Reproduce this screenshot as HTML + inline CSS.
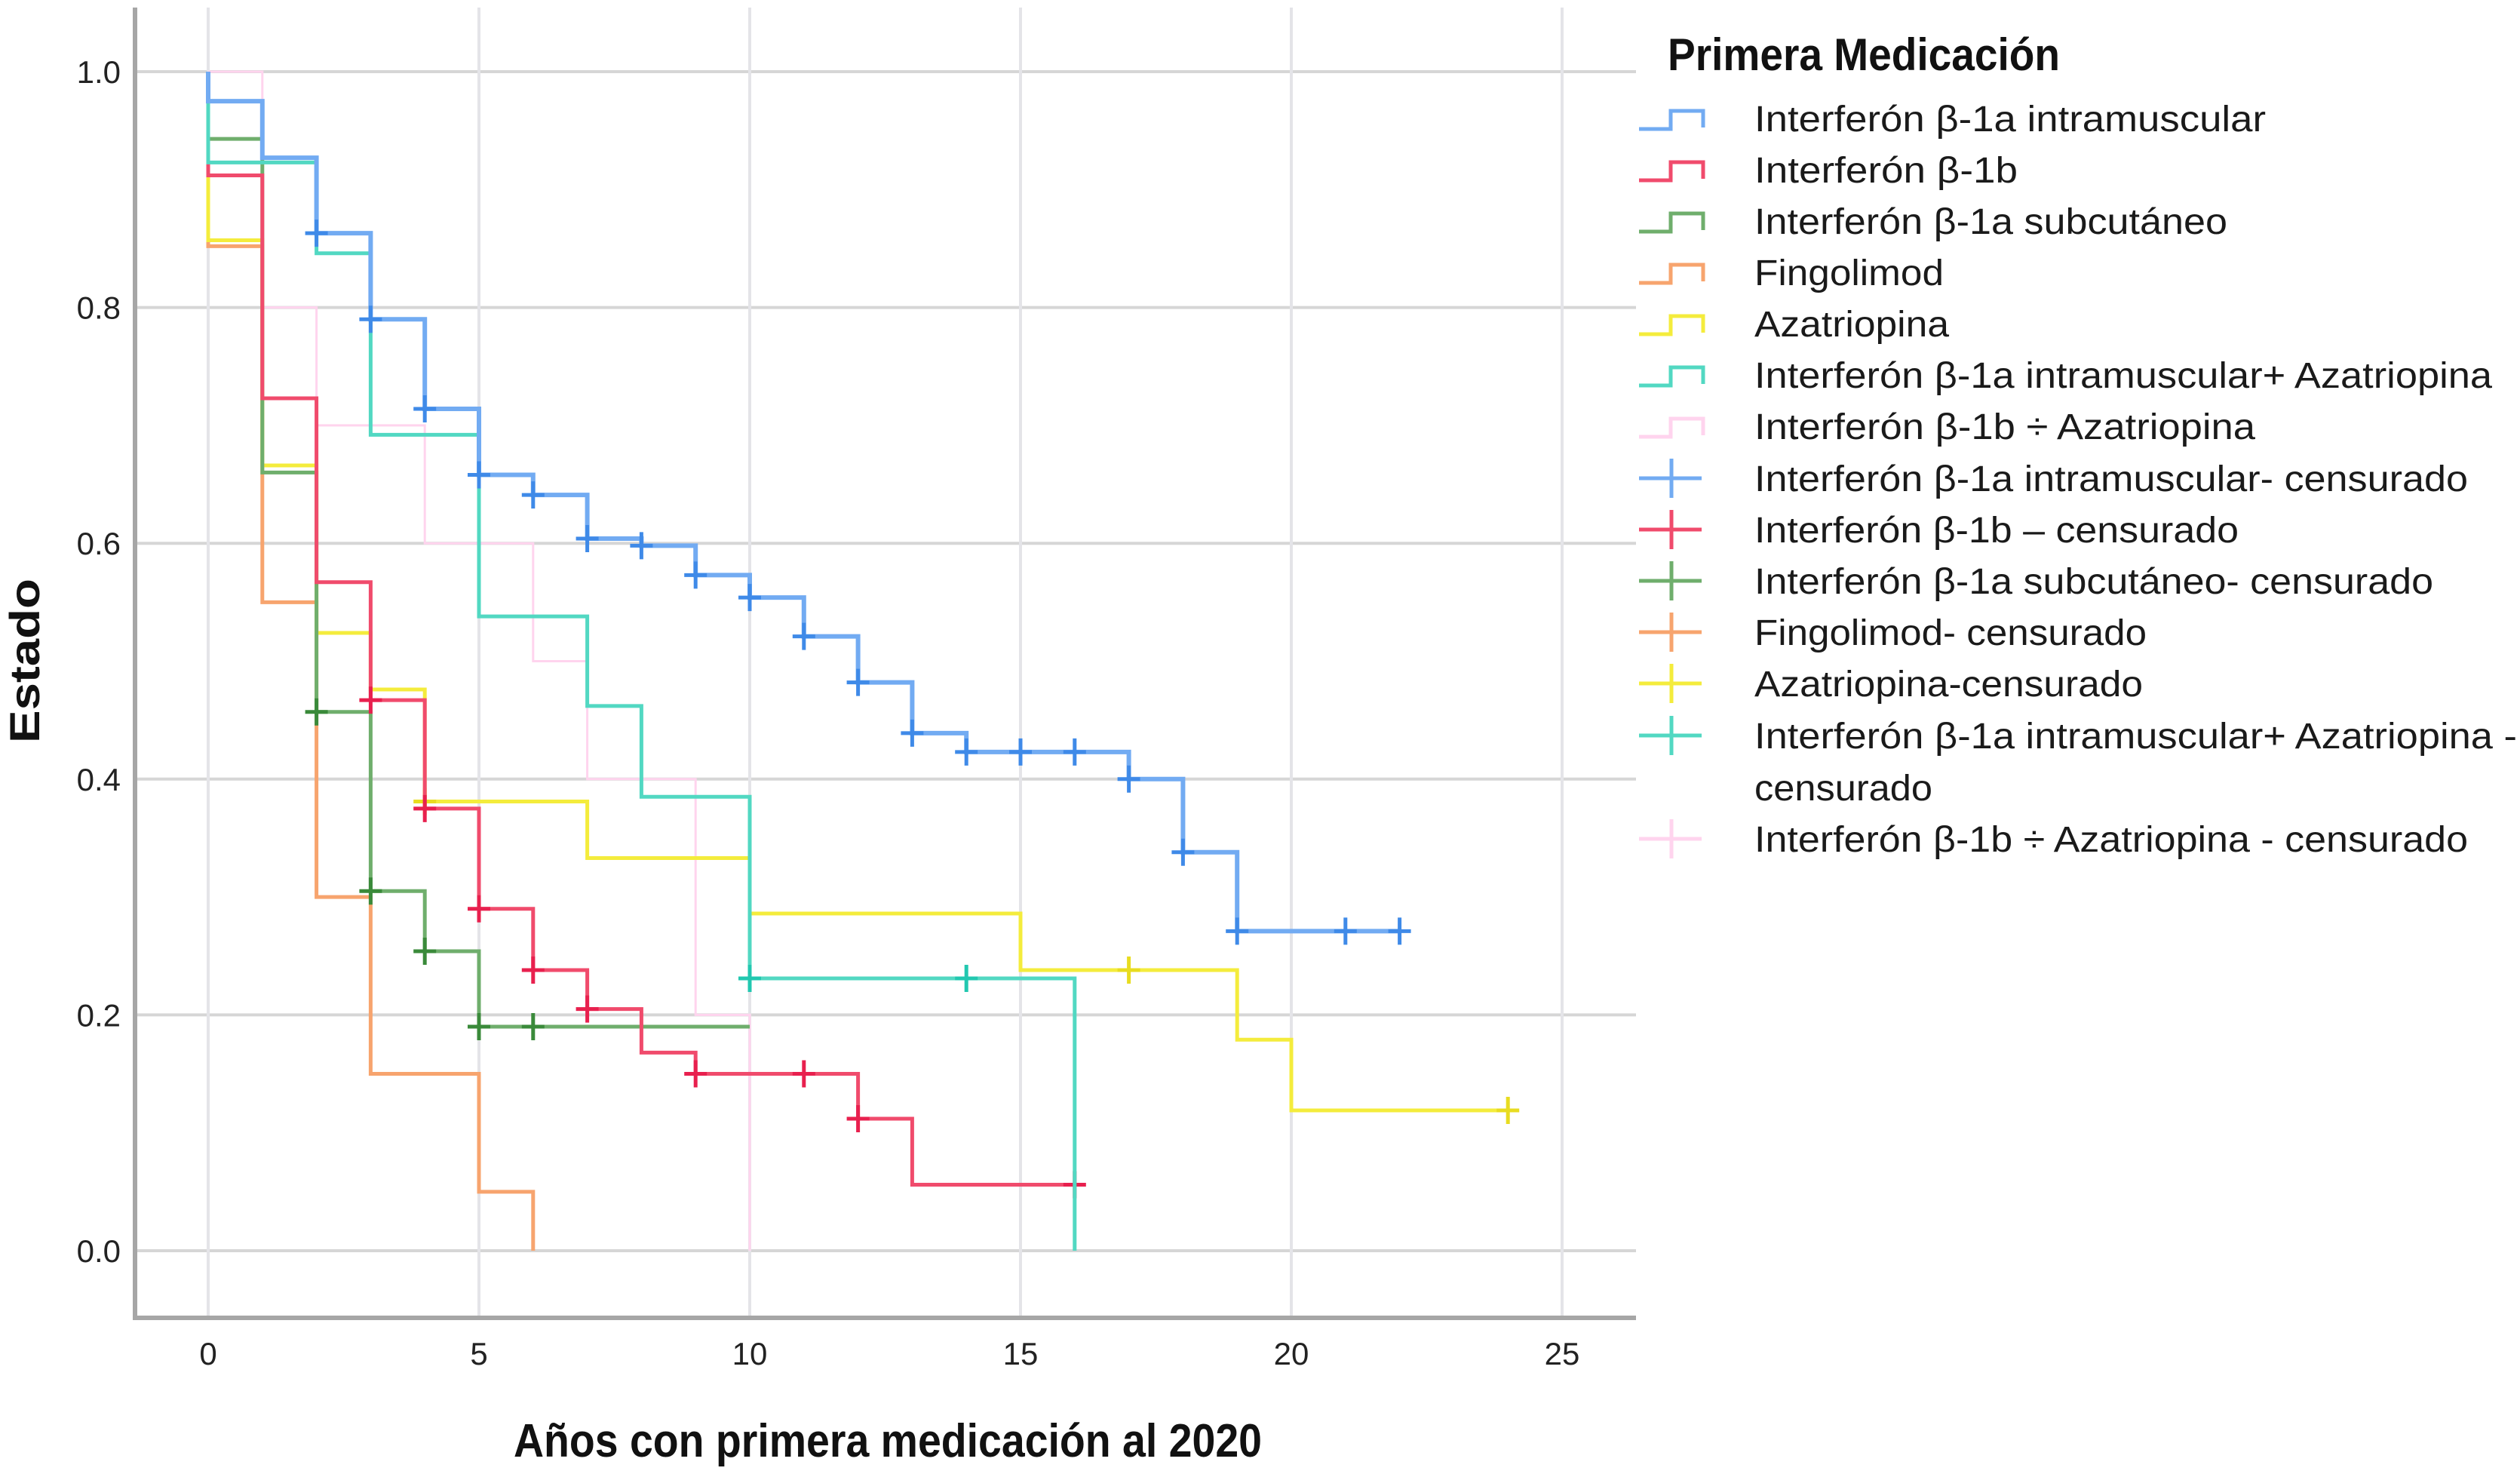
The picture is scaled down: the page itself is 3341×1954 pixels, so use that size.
<!DOCTYPE html>
<html><head><meta charset="utf-8"><style>
html,body{margin:0;padding:0;background:#fff;}
svg{display:block;font-family:"Liberation Sans",sans-serif;}
</style></head><body>
<svg id="chart" width="3341" height="1954" viewBox="0 0 3341 1954" xmlns="http://www.w3.org/2000/svg">
<rect x="0" y="0" width="3341" height="1954" fill="#ffffff"/>
<g id="grid"></g>
<g id="series"></g>
<g id="axes"></g>
<g id="legend"></g>
</svg>
<script>
var xTicks = [0, 5, 10, 15, 20, 25];
var yTicks = [0.0, 0.2, 0.4, 0.6, 0.8, 1.0];
var yTickLabels = ["0.0", "0.2", "0.4", "0.6", "0.8", "1.0"];

var seriesNames = ["Interferón β-1a intramuscular","Interferón β-1b","Interferón β-1a subcutáneo","Fingolimod","Azatriopina","Interferón β-1a intramuscular+ Azatriopina","Interferón β-1b ÷ Azatriopina"];
var seriesColors = ["#72abf2","#f04b6c","#6fae6c","#f7a46e","#f4ec3c","#52d8c2","#ffd4ee"];
var markerColors = ["#3f8ae8","#e8204e","#3a8a3a","#f08a50","#e8dc20","#22c8b0","#ffc4e6"];

var blueT = [0,1,2,3,4,5,6,7,8,9,10,11,12,13,14,17,18,19];
var blueS = [0.975,0.927,0.863,0.79,0.714,0.658,0.641,0.604,0.598,0.573,0.554,0.521,0.482,0.439,0.423,0.40,0.338,0.271];
var blueEnd = 22;
var blueCens = [2,3,4,5,6,7,8,9,10,11,12,13,14,15,16,17,18,19,21,22];

var redT = [0,1,2,3,4,5,6,7,8,9,12,13];
var redS = [0.912,0.723,0.567,0.467,0.375,0.29,0.238,0.205,0.168,0.15,0.112,0.056];
var redEnd = 16;
var redCens = [3,4,5,6,7,9,11,12,16];

var greenT = [0,1,2,3,4,5];
var greenS = [0.943,0.66,0.457,0.305,0.254,0.19];
var greenEnd = 10;
var greenCens = [2,3,4,5,6];

var orangeT = [0,1,2,3,5,6];
var orangeS = [0.852,0.55,0.30,0.15,0.05,0.0];
var orangeEnd = 6;
var orangeCens = [];

var yellowT = [0,1,2,3,4,7,10,15,19,20];
var yellowS = [0.857,0.666,0.524,0.476,0.381,0.333,0.286,0.238,0.179,0.119];
var yellowEnd = 24;
var yellowCens = [4,17,24];

var tealT = [0,2,3,5,7,8,10,16];
var tealS = [0.923,0.846,0.692,0.538,0.462,0.385,0.231,0.0];
var tealEnd = 16;
var tealCens = [10,14];

var pinkT = [0,1,2,4,6,7,9,10];
var pinkS = [1.0,0.8,0.7,0.6,0.5,0.4,0.2,0.0];
var pinkEnd = 10;
var pinkCens = [];

var legendLabels = ["Interferón β-1a intramuscular","Interferón β-1b","Interferón β-1a subcutáneo","Fingolimod","Azatriopina","Interferón β-1a intramuscular+ Azatriopina","Interferón β-1b ÷ Azatriopina","Interferón β-1a intramuscular- censurado","Interferón β-1b – censurado","Interferón β-1a subcutáneo- censurado","Fingolimod- censurado","Azatriopina-censurado","Interferón β-1a intramuscular+ Azatriopina -","Interferón β-1b ÷ Azatriopina - censurado"];

var NS = "http://www.w3.org/2000/svg";
var X0 = 276, PXY = 71.8, Y0 = 1658, PYU = 1563;
function sx(t){ return X0 + t * PXY; }
function sy(v){ return Y0 - v * PYU; }
function mk(tag, attrs, parent){
  var e = document.createElementNS(NS, tag);
  for (var k in attrs) e.setAttribute(k, attrs[k]);
  parent.appendChild(e);
  return e;
}
var grid = document.getElementById('grid');
var axes = document.getElementById('axes');
var ser = document.getElementById('series');
var leg = document.getElementById('legend');

yTicks.forEach(function(v, i){
  var l = mk('line', {x1:179, x2:2169, y1:sy(v), y2:sy(v), stroke:'#d6d6d6', 'stroke-width':4}, grid);
  
  
  var t = mk('text', {x:160, y:sy(v)+15, 'text-anchor':'end', 'font-size':42, fill:'#222'}, axes);
  t.textContent = yTickLabels[i];
  
  
});
xTicks.forEach(function(v){
  var l = mk('line', {x1:sx(v), x2:sx(v), y1:10, y2:1745, stroke:'#e4e4e8', 'stroke-width':4}, grid);
  
  
  var t = mk('text', {x:sx(v), y:1809, 'text-anchor':'middle', 'font-size':42, fill:'#222'}, axes);
  t.textContent = String(v);
  
  
});
var ya = mk('line', {x1:179, x2:179, y1:10, y2:1749, stroke:'#a6a6a6', 'stroke-width':6}, axes);


var xa = mk('line', {x1:176, x2:2169, y1:1747, y2:1747, stroke:'#a6a6a6', 'stroke-width':6}, axes);



var xt = mk('text', {x:681, y:1931, 'font-size':62, 'font-weight':'bold', fill:'#111', textLength:992, lengthAdjust:'spacingAndGlyphs'}, axes);
xt.textContent = 'Años con primera medicación al 2020';


var yt = mk('text', {x:0, y:0, 'font-size':56, 'font-weight':'bold', fill:'#111', 'text-anchor':'middle', transform:'translate(52,876) rotate(-90)', textLength:218, lengthAdjust:'spacingAndGlyphs'}, axes);
yt.textContent = 'Estado';



function valAt(T, S, t){
  var v = 1.0;
  for (var i = 0; i < T.length; i++){ if (T[i] <= t) v = S[i]; }
  return v;
}
function drawSeries(idx, T, S, end, cens, width, name){
  var d = 'M' + sx(0) + ',' + sy(1.0);
  for (var i = 0; i < T.length; i++){
    d += ' V' + sy(S[i]);
    var nt = (i + 1 < T.length) ? T[i+1] : end;
    d += ' H' + sx(nt);
  }
  var p = mk('path', {d:d, fill:'none', stroke:seriesColors[idx], 'stroke-width':width, 'stroke-linejoin':'miter'}, ser);
  
  
  cens.forEach(function(c){
    var cx = sx(c), cy = sy(valAt(T, S, c));
    var g = mk('path', {d:'M'+(cx-15)+','+cy+' H'+(cx+15)+' M'+cx+','+(cy-18)+' V'+(cy+18), stroke:markerColors[idx], 'stroke-width':5, fill:'none'}, ser);
    
    
  });
}
drawSeries(6, pinkT, pinkS, pinkEnd, pinkCens, 3, 'ifn-1b-aza');
drawSeries(3, orangeT, orangeS, orangeEnd, orangeCens, 5, 'fingolimod');
drawSeries(4, yellowT, yellowS, yellowEnd, yellowCens, 5, 'azatriopina');
drawSeries(2, greenT, greenS, greenEnd, greenCens, 5, 'ifn-1a-sc');
drawSeries(1, redT, redS, redEnd, redCens, 5, 'ifn-1b');
drawSeries(5, tealT, tealS, tealEnd, tealCens, 5, 'ifn-1a-im-aza');
drawSeries(0, blueT, blueS, blueEnd, blueCens, 6, 'ifn-1a-im');

var lt = mk('text', {x:2211, y:93, 'font-size':60, 'font-weight':'bold', fill:'#111', textLength:520, lengthAdjust:'spacingAndGlyphs'}, leg);
lt.textContent = 'Primera Medicación';


var widths = [678,349,627,251,258,978,664,946,642,900,520,515,1011,946];
var rowY = [157,225,293,361,429,497,565,634,702,770,838,906,975,1112];
for (var i = 0; i < legendLabels.length; i++){
  var cy = rowY[i];
  var ci = i % 7;
  var ic;
  if (i < 7){
    ic = mk('path', {d:'M2173,'+(cy+14)+' H2215 V'+(cy-10)+' H2258 V'+(cy+12), fill:'none', stroke:seriesColors[ci], 'stroke-width':5}, leg);
  } else {
    ic = mk('path', {d:'M2173,'+cy+' H2256 M2216,'+(cy-26)+' V'+(cy+26), fill:'none', stroke:seriesColors[ci], 'stroke-width':5}, leg);
  }
  
  
  var tx = mk('text', {x:2326, y:cy+17, 'font-size':48, fill:'#1a1a1a', textLength:widths[i], lengthAdjust:'spacingAndGlyphs'}, leg);
  tx.textContent = legendLabels[i];
  
  
}
var tw = mk('text', {x:2326, y:1044+17, 'font-size':48, fill:'#1a1a1a', textLength:236, lengthAdjust:'spacingAndGlyphs'}, leg);
tw.textContent = 'censurado';


</script>
</body></html>
